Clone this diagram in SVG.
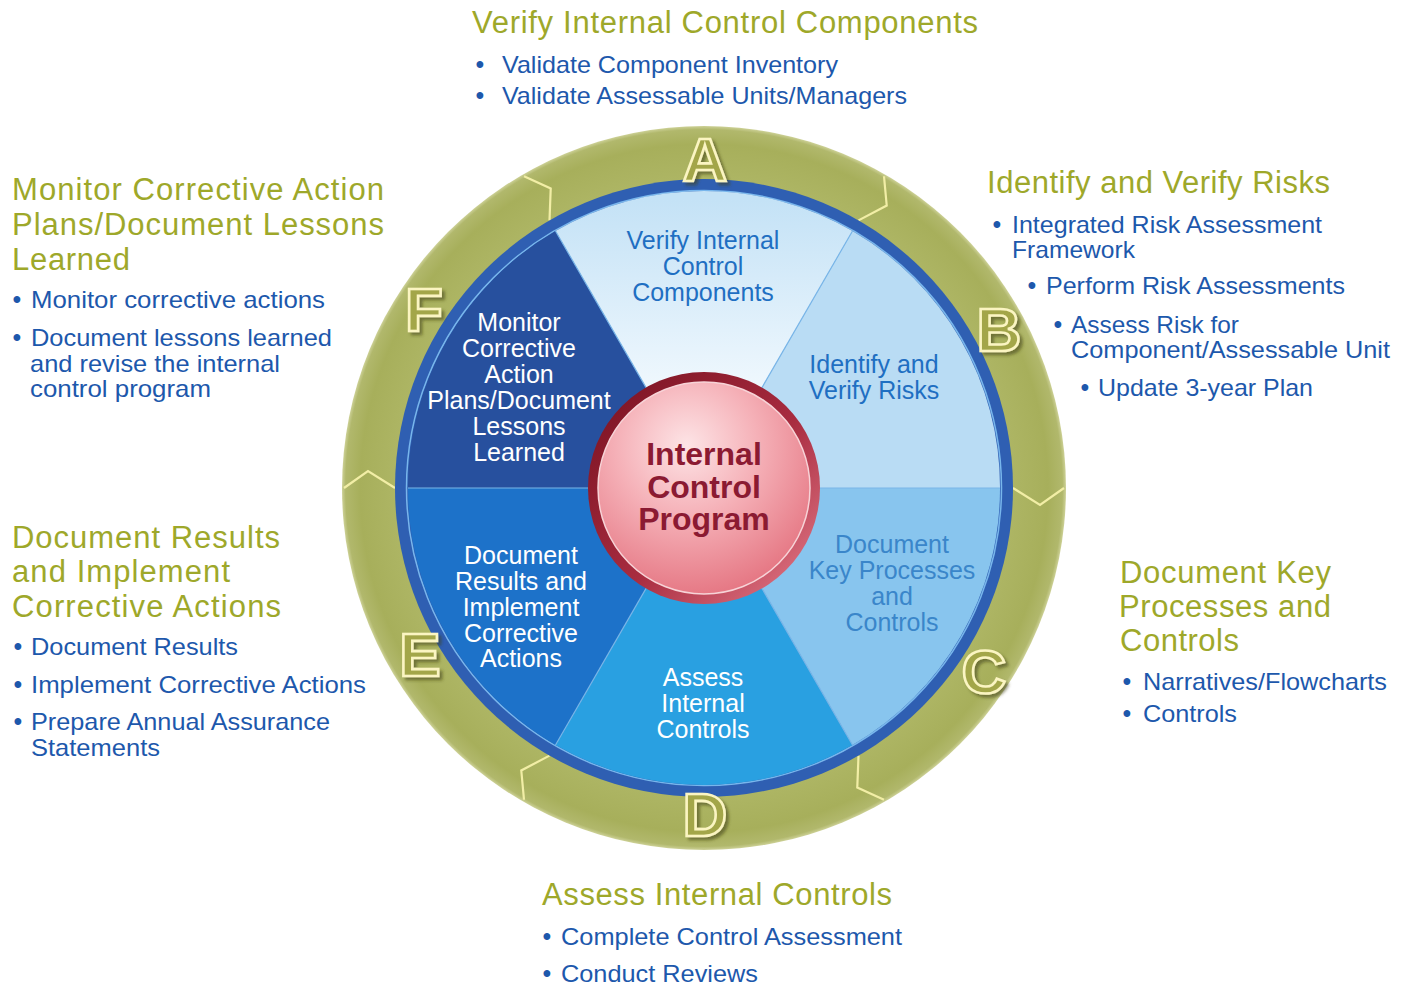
<svg xmlns="http://www.w3.org/2000/svg" width="1407" height="989" viewBox="0 0 1407 989">
  <style>
    .hd { font-family: "Liberation Sans", Arial, sans-serif; font-size: 31px; fill: #9ea82a; }
    .bl { font-family: "Liberation Sans", Arial, sans-serif; font-size: 24px; fill: #1d58ac; }
    .dot { font-family: "Liberation Sans", Arial, sans-serif; font-size: 25px; fill: #1d58ac; text-anchor: middle; }
    .wl { font-family: "Liberation Sans", Arial, sans-serif; font-size: 25px; text-anchor: middle; }
    .wl-a { fill: #1f6fc2; }
    .wl-c { fill: #3a86ca; }
    .wl-w { fill: #ffffff; }
    .ctr { font-family: "Liberation Sans", Arial, sans-serif; font-size: 32px; font-weight: bold; fill: #8b1a32; text-anchor: middle; }
    .ltr { font-family: "Liberation Sans", Arial, sans-serif; font-size: 62px; font-weight: bold; text-anchor: middle; fill: #a3a64a; stroke: #fbf5c2; stroke-width: 2.6; }
    .chev { fill: none; stroke: #f2eea6; stroke-width: 2.2; stroke-linejoin: miter; }
    .div { stroke: #7ab6e8; stroke-width: 1.2; }
  </style>
  <defs>
    <radialGradient id="greenRing" cx="704" cy="488" r="362" gradientUnits="userSpaceOnUse">
      <stop offset="0.84" stop-color="#aeb665"/>
      <stop offset="0.95" stop-color="#a7af5b"/>
      <stop offset="0.99" stop-color="#b1b86c"/>
      <stop offset="1" stop-color="#cdd197"/>
    </radialGradient>
    <linearGradient id="wedgeA" x1="0" y1="200" x2="0" y2="400" gradientUnits="userSpaceOnUse">
      <stop offset="0" stop-color="#c4e2f6"/>
      <stop offset="1" stop-color="#f2f9fe"/>
    </linearGradient>
    <linearGradient id="rim" x1="0" y1="0" x2="1" y2="1">
      <stop offset="0" stop-color="#76101f"/>
      <stop offset="0.55" stop-color="#a82c40"/>
      <stop offset="1" stop-color="#e8808e"/>
    </linearGradient>
    <radialGradient id="disc" cx="0.42" cy="0.3" r="0.75">
      <stop offset="0" stop-color="#fde4e6"/>
      <stop offset="0.45" stop-color="#f5b0b7"/>
      <stop offset="1" stop-color="#e4727f"/>
    </radialGradient>
    <filter id="ltrShadow" x="-30%" y="-30%" width="160%" height="160%">
      <feDropShadow dx="3" dy="3" stdDeviation="1.6" flood-color="#3e3e0c" flood-opacity="0.55"/>
    </filter>
  </defs>

  <rect width="1407" height="989" fill="#ffffff"/>

  <!-- Outer olive ring with chevrons at each segment boundary -->
  <g id="outer-ring">
    <circle cx="704" cy="488" r="362" fill="url(#greenRing)"/>
    <g transform="translate(704,488)">
      <path class="chev" d="M360,0 L336,17 L309,0"/>
      <path class="chev" d="M360,0 L336,17 L309,0" transform="rotate(-60)"/>
      <path class="chev" d="M360,0 L336,17 L309,0" transform="rotate(-120)"/>
      <path class="chev" d="M360,0 L336,17 L309,0" transform="rotate(-180)"/>
      <path class="chev" d="M360,0 L336,17 L309,0" transform="rotate(-240)"/>
      <path class="chev" d="M360,0 L336,17 L309,0" transform="rotate(-300)"/>
    </g>
  </g>

  <!-- Blue band -->
  <g id="blue-band">
    <circle cx="704" cy="488" r="309" fill="#2f5fb2"/>
    <circle cx="704" cy="488" r="297.5" fill="none" stroke="#78b6ec" stroke-width="1.5"/>
  </g>

  <!-- Segments -->
  <g id="seg-a">
    <path d="M704,488 L852.5,231 A296,296 0 0 0 555.5,231 Z" fill="url(#wedgeA)"/>
    <text class="wl wl-a" x="703" y="249">Verify Internal</text>
    <text class="wl wl-a" x="703" y="275">Control</text>
    <text class="wl wl-a" x="703" y="301">Components</text>
  </g>
  <g id="seg-b">
    <path d="M704,488 L1000,488 A296,296 0 0 0 852.5,231 Z" fill="#b9dcf4"/>
    <text class="wl wl-a" x="874" y="373">Identify and</text>
    <text class="wl wl-a" x="874" y="399">Verify Risks</text>
  </g>
  <g id="seg-c">
    <path d="M704,488 L852.5,745 A296,296 0 0 0 1000,488 Z" fill="#88c5ee"/>
    <text class="wl wl-c" x="892" y="553">Document</text>
    <text class="wl wl-c" x="892" y="579">Key Processes</text>
    <text class="wl wl-c" x="892" y="605">and</text>
    <text class="wl wl-c" x="892" y="631">Controls</text>
  </g>
  <g id="seg-d">
    <path d="M704,488 L555.5,745 A296,296 0 0 0 852.5,745 Z" fill="#29a0e1"/>
    <text class="wl wl-w" x="703" y="686">Assess</text>
    <text class="wl wl-w" x="703" y="712">Internal</text>
    <text class="wl wl-w" x="703" y="738">Controls</text>
  </g>
  <g id="seg-e">
    <path d="M704,488 L408,488 A296,296 0 0 0 555.5,745 Z" fill="#1d72c9"/>
    <text class="wl wl-w" x="521" y="564">Document</text>
    <text class="wl wl-w" x="521" y="590">Results and</text>
    <text class="wl wl-w" x="521" y="616">Implement</text>
    <text class="wl wl-w" x="521" y="642">Corrective</text>
    <text class="wl wl-w" x="521" y="667">Actions</text>
  </g>
  <g id="seg-f">
    <path d="M704,488 L555.5,231 A296,296 0 0 0 408,488 Z" fill="#27509e"/>
    <text class="wl wl-w" x="519" y="331">Monitor</text>
    <text class="wl wl-w" x="519" y="357">Corrective</text>
    <text class="wl wl-w" x="519" y="383">Action</text>
    <text class="wl wl-w" x="519" y="409">Plans/Document</text>
    <text class="wl wl-w" x="519" y="435">Lessons</text>
    <text class="wl wl-w" x="519" y="461">Learned</text>
  </g>

  <!-- Segment dividers -->
  <g id="dividers">
    <line class="div" x1="819" y1="488" x2="1000" y2="488"/>
    <line class="div" x1="761.5" y1="388.4" x2="852.5" y2="231"/>
    <line class="div" x1="646.5" y1="388.4" x2="555.5" y2="231"/>
    <line class="div" x1="589" y1="488" x2="408" y2="488"/>
    <line class="div" x1="646.5" y1="587.6" x2="555.5" y2="745"/>
    <line class="div" x1="761.5" y1="587.6" x2="852.5" y2="745"/>
  </g>

  <!-- Hub -->
  <g id="hub">
    <circle cx="704" cy="488" r="116" fill="url(#rim)"/>
    <circle cx="704" cy="488" r="106" fill="url(#disc)" stroke="#f7d3d7" stroke-width="1.5"/>
    <text class="ctr" x="704" y="465">Internal</text>
    <text class="ctr" x="704" y="498">Control</text>
    <text class="ctr" x="704" y="530">Program</text>
  </g>

  <!-- Step letters -->
  <g id="letters" filter="url(#ltrShadow)">
    <text class="ltr" x="705" y="181">A</text>
    <text class="ltr" x="999" y="351">B</text>
    <text class="ltr" x="984" y="693">C</text>
    <text class="ltr" x="705" y="836">D</text>
    <text class="ltr" x="420" y="676">E</text>
    <text class="ltr" x="424" y="331">F</text>
  </g>

  <!-- A: Verify Internal Control Components -->
  <g id="note-a">
    <text class="hd" x="472" y="33" textLength="506" lengthAdjust="spacing">Verify Internal Control Components</text>
    <text class="dot" x="480" y="73">•</text>
    <text class="bl" x="502" y="73" textLength="336" lengthAdjust="spacingAndGlyphs">Validate Component Inventory</text>
    <text class="dot" x="480" y="104">•</text>
    <text class="bl" x="502" y="104" textLength="405" lengthAdjust="spacingAndGlyphs">Validate Assessable Units/Managers</text>
  </g>

  <!-- B: Identify and Verify Risks -->
  <g id="note-b">
    <text class="hd" x="987" y="193" textLength="343" lengthAdjust="spacing">Identify and Verify Risks</text>
    <text class="dot" x="997" y="233">•</text>
    <text class="bl" x="1012" y="233" textLength="310" lengthAdjust="spacingAndGlyphs">Integrated Risk Assessment</text>
    <text class="bl" x="1012" y="258" textLength="123" lengthAdjust="spacingAndGlyphs">Framework</text>
    <text class="dot" x="1032" y="294">•</text>
    <text class="bl" x="1046" y="294" textLength="299" lengthAdjust="spacingAndGlyphs">Perform Risk Assessments</text>
    <text class="dot" x="1058" y="333">•</text>
    <text class="bl" x="1071" y="333" textLength="168" lengthAdjust="spacingAndGlyphs">Assess Risk for</text>
    <text class="bl" x="1071" y="358" textLength="319" lengthAdjust="spacingAndGlyphs">Component/Assessable Unit</text>
    <text class="dot" x="1085" y="396">•</text>
    <text class="bl" x="1098" y="396" textLength="215" lengthAdjust="spacingAndGlyphs">Update 3-year Plan</text>
  </g>

  <!-- C: Document Key Processes and Controls -->
  <g id="note-c">
    <text class="hd" x="1120" y="583" textLength="211" lengthAdjust="spacing">Document Key</text>
    <text class="hd" x="1119" y="617" textLength="212" lengthAdjust="spacing">Processes and</text>
    <text class="hd" x="1120" y="651" textLength="119" lengthAdjust="spacing">Controls</text>
    <text class="dot" x="1127" y="690">•</text>
    <text class="bl" x="1143" y="690" textLength="244" lengthAdjust="spacingAndGlyphs">Narratives/Flowcharts</text>
    <text class="dot" x="1127" y="722">•</text>
    <text class="bl" x="1143" y="722" textLength="94" lengthAdjust="spacingAndGlyphs">Controls</text>
  </g>

  <!-- D: Assess Internal Controls -->
  <g id="note-d">
    <text class="hd" x="542" y="905" textLength="350" lengthAdjust="spacing">Assess Internal Controls</text>
    <text class="dot" x="547" y="945">•</text>
    <text class="bl" x="561" y="945" textLength="341" lengthAdjust="spacingAndGlyphs">Complete Control Assessment</text>
    <text class="dot" x="547" y="982">•</text>
    <text class="bl" x="561" y="982" textLength="197" lengthAdjust="spacingAndGlyphs">Conduct Reviews</text>
  </g>

  <!-- E: Document Results and Implement Corrective Actions -->
  <g id="note-e">
    <text class="hd" x="12" y="548" textLength="268" lengthAdjust="spacing">Document Results</text>
    <text class="hd" x="12" y="582" textLength="218" lengthAdjust="spacing">and Implement</text>
    <text class="hd" x="12" y="617" textLength="269" lengthAdjust="spacing">Corrective Actions</text>
    <text class="dot" x="18" y="655">•</text>
    <text class="bl" x="31" y="655" textLength="207" lengthAdjust="spacingAndGlyphs">Document Results</text>
    <text class="dot" x="18" y="693">•</text>
    <text class="bl" x="31" y="693" textLength="335" lengthAdjust="spacingAndGlyphs">Implement Corrective Actions</text>
    <text class="dot" x="18" y="730">•</text>
    <text class="bl" x="31" y="730" textLength="299" lengthAdjust="spacingAndGlyphs">Prepare Annual Assurance</text>
    <text class="bl" x="31" y="756" textLength="129" lengthAdjust="spacingAndGlyphs">Statements</text>
  </g>

  <!-- F: Monitor Corrective Action Plans/Document Lessons Learned -->
  <g id="note-f">
    <text class="hd" x="12" y="200" textLength="372" lengthAdjust="spacing">Monitor Corrective Action</text>
    <text class="hd" x="12" y="235" textLength="372" lengthAdjust="spacing">Plans/Document Lessons</text>
    <text class="hd" x="12" y="270" textLength="118" lengthAdjust="spacing">Learned</text>
    <text class="dot" x="17" y="308">•</text>
    <text class="bl" x="31" y="308" textLength="294" lengthAdjust="spacingAndGlyphs">Monitor corrective actions</text>
    <text class="dot" x="17" y="346">•</text>
    <text class="bl" x="31" y="346" textLength="301" lengthAdjust="spacingAndGlyphs">Document lessons learned</text>
    <text class="bl" x="30" y="372" textLength="250" lengthAdjust="spacingAndGlyphs">and revise the internal</text>
    <text class="bl" x="30" y="397" textLength="181" lengthAdjust="spacingAndGlyphs">control program</text>
  </g>
</svg>
